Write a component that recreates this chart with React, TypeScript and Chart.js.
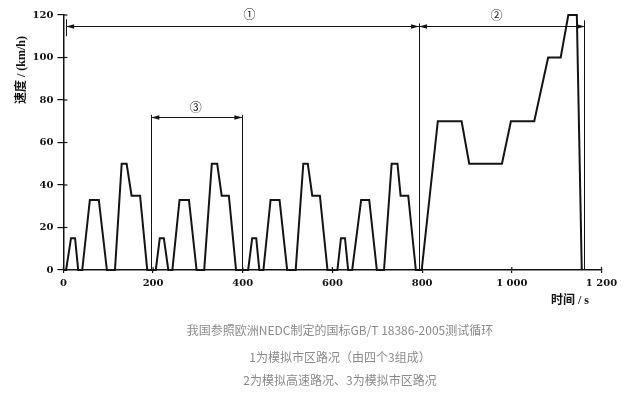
import React, { useEffect, useRef } from 'react';
import { Chart, registerables } from 'chart.js';

Chart.register(...registerables);

// NEDC speed profile (time in s, speed in km/h)
const timeS = [
  0, 6, 17, 26, 33, 42, 59, 79, 97, 115, 130, 141, 152, 171, 187,
  206, 215, 224, 234, 243, 259, 280, 297, 314, 331, 343, 353, 369, 385,
  412, 421, 430, 437, 446, 462, 482, 499, 518, 535, 545, 555, 572, 589,
  611, 619, 628, 635, 644, 664, 682, 699, 715, 732, 745, 752, 769, 786,
  799, 835, 888, 905, 978, 998, 1050, 1081, 1109, 1126, 1145, 1156,
];
const speedKmh = [
  0, 0, 15, 15, 0, 0, 33, 33, 0, 0, 50, 50, 35, 35, 0,
  0, 15, 15, 0, 0, 33, 33, 0, 0, 50, 50, 35, 35, 0,
  0, 15, 15, 0, 0, 33, 33, 0, 0, 50, 50, 35, 35, 0,
  0, 15, 15, 0, 0, 33, 33, 0, 0, 50, 50, 35, 35, 0,
  0, 70, 70, 50, 50, 70, 70, 100, 100, 120, 120, 0,
];

const xTickValues = [0, 200, 400, 600, 800, 1000, 1200];
const yTickValues = [0, 20, 40, 60, 80, 100, 120];

// Segment markers (bracket start, end, level, label)
const bracketLabels = ['①', '②', '③'];
const bracketStart = [5, 792, 195];
const bracketEnd = [792, 1162, 398];
const bracketLevel = [115, 115, 72];
const labelTime = [415, 966, 295];
const labelLevel = [120.4, 120, 76.4];

const yTitle = '速度 / (km/h)';
const xTitle = '时间 / s';
const captionLines = [
  '我国参照欧洲NEDC制定的国标GB/T 18386-2005测试循环',
  '1为模拟市区路况（由四个3组成）',
  '2为模拟高速路况、3为模拟市区路况',
];

const INK = '#141414';

function arrow(ctx: CanvasRenderingContext2D, tipX: number, y: number, dir: number) {
  ctx.beginPath();
  ctx.moveTo(tipX, y);
  ctx.lineTo(tipX - dir * 8, y - 2.2);
  ctx.lineTo(tipX - dir * 8, y + 2.2);
  ctx.closePath();
  ctx.fill();
}

const annotationPlugin = {
  id: 'nedcAnnotations',
  afterDatasetsDraw(chart: any) {
    const ctx: CanvasRenderingContext2D = chart.ctx;
    const xs = chart.scales.x;
    const ys = chart.scales.y;
    const area = chart.chartArea;
    ctx.save();
    ctx.strokeStyle = INK;
    ctx.fillStyle = INK;
    ctx.lineWidth = 1;

    // inner halves of tick marks
    ctx.lineWidth = 1.2;
    yTickValues.forEach((v) => {
      const py = ys.getPixelForValue(v);
      ctx.beginPath();
      ctx.moveTo(area.left, py);
      ctx.lineTo(area.left + 4, py);
      ctx.stroke();
    });
    xTickValues.forEach((v) => {
      const px = xs.getPixelForValue(v);
      ctx.beginPath();
      ctx.moveTo(px, area.bottom);
      ctx.lineTo(px, area.bottom - 3);
      ctx.stroke();
    });

    ctx.lineWidth = 1;
    const y0 = ys.getPixelForValue(0);
    // vertical boundary lines
    const vLine = (t: number, top: number, bottom: number) => {
      const px = Math.round(xs.getPixelForValue(t)) + 0.5;
      ctx.beginPath();
      ctx.moveTo(px, ys.getPixelForValue(top));
      ctx.lineTo(px, ys.getPixelForValue(bottom));
      ctx.stroke();
    };
    vLine(bracketStart[0], bracketLevel[0] + 3, bracketLevel[0] - 5);
    vLine(bracketEnd[0], bracketLevel[0] + 1, 0);
    vLine(bracketEnd[1], bracketLevel[1] + 2.5, 0);
    vLine(bracketStart[2], bracketLevel[2] + 1, 0);
    vLine(bracketEnd[2], bracketLevel[2] + 1, 0);

    // horizontal bracket lines with arrows
    for (let i = 0; i < bracketLabels.length; i++) {
      const x1 = xs.getPixelForValue(bracketStart[i]) + 0.5;
      const x2 = xs.getPixelForValue(bracketEnd[i]) + 0.5;
      const py = Math.round(ys.getPixelForValue(bracketLevel[i])) + 0.5;
      ctx.beginPath();
      ctx.moveTo(x1, py);
      ctx.lineTo(x2, py);
      ctx.stroke();
      arrow(ctx, x1, py, -1);
      arrow(ctx, x2, py, 1);
      ctx.font = "12px 'Noto Sans CJK SC'";
      ctx.textAlign = 'center';
      ctx.textBaseline = 'middle';
      ctx.fillText(bracketLabels[i], xs.getPixelForValue(labelTime[i]), ys.getPixelForValue(labelLevel[i]));
    }

    // axis titles
    ctx.font = "bold 12px 'Liberation Serif', 'Noto Sans CJK SC'";
    ctx.textBaseline = 'middle';
    ctx.textAlign = 'center';
    ctx.save();
    ctx.translate(22, 70);
    ctx.rotate(-Math.PI / 2);
    ctx.fillText(yTitle, 0, 0);
    ctx.restore();
    ctx.textAlign = 'right';
    ctx.fillText(xTitle, 589, 301);
    void y0;
    ctx.restore();
  },
};

export default function App() {
  const canvasRef = useRef<HTMLCanvasElement | null>(null);

  useEffect(() => {
    const canvas = canvasRef.current;
    if (!canvas) return;
    const chart = new Chart(canvas, {
      type: 'line',
      data: {
        datasets: [
          {
            data: timeS.map((t, i) => ({ x: t, y: speedKmh[i] })),
            borderColor: INK,
            borderWidth: 2,
            pointRadius: 0,
            tension: 0,
            fill: false,
            clip: false as any,
            borderJoinStyle: 'miter',
          },
        ],
      },
      options: {
        animation: false,
        responsive: false,
        devicePixelRatio: 1,
        layout: { padding: { left: 0, right: 29.5, top: 15, bottom: 0 } },
        plugins: {
          legend: { display: false },
          tooltip: { enabled: false },
          title: { display: false },
        },
        scales: {
          x: {
            type: 'linear',
            min: 0,
            max: 1200,
            afterFit: (scale: any) => {
              scale.height = 123;
            },
            afterBuildTicks: (scale: any) => {
              scale.ticks = xTickValues.map((v) => ({ value: v }));
            },
            border: { display: true, color: INK, width: 1.5 },
            grid: { drawOnChartArea: false, drawTicks: true, tickLength: 3, color: INK, lineWidth: 1.2 },
            ticks: {
              padding: 4,
              color: INK,
              maxRotation: 0,
              autoSkip: false,
              font: { family: "'DejaVu Serif'", weight: 'bold', size: 10 },
              callback: (v: any) => {
                const s = String(v);
                return s.length === 4 ? s[0] + ' ' + s.slice(1) : s;
              },
            },
          },
          y: {
            type: 'linear',
            min: 0,
            max: 120,
            afterFit: (scale: any) => {
              scale.width = 63.4;
            },
            afterBuildTicks: (scale: any) => {
              scale.ticks = yTickValues.map((v) => ({ value: v }));
            },
            border: { display: true, color: INK, width: 1.5 },
            grid: { drawOnChartArea: false, drawTicks: true, tickLength: 6, color: INK, lineWidth: 1.2 },
            ticks: {
              padding: 4,
              color: INK,
              autoSkip: false,
              font: { family: "'DejaVu Serif'", weight: 'bold', size: 10 },
            },
          },
        },
      },
      plugins: [annotationPlugin],
    } as any);
    return () => chart.destroy();
  }, []);

  const captionTops = [322, 348.5, 372];

  return (
    <div style={{ position: 'absolute', left: 0, top: 0, width: 631, height: 393, background: '#fff', overflow: 'hidden' }}>
      <canvas ref={canvasRef} width={631} height={393} style={{ position: 'absolute', left: 0, top: 0, width: 631, height: 393 }} />
      {captionLines.map((line, i) => (
        <div
          key={i}
          style={{
            position: 'absolute',
            left: 140,
            width: 400,
            top: captionTops[i],
            textAlign: 'center',
            fontFamily: "'Noto Sans CJK SC', sans-serif",
            fontSize: 12,
            lineHeight: '16px',
            color: '#8a8a8a',
            whiteSpace: 'nowrap',
          }}
        >
          {line}
        </div>
      ))}
    </div>
  );
}
